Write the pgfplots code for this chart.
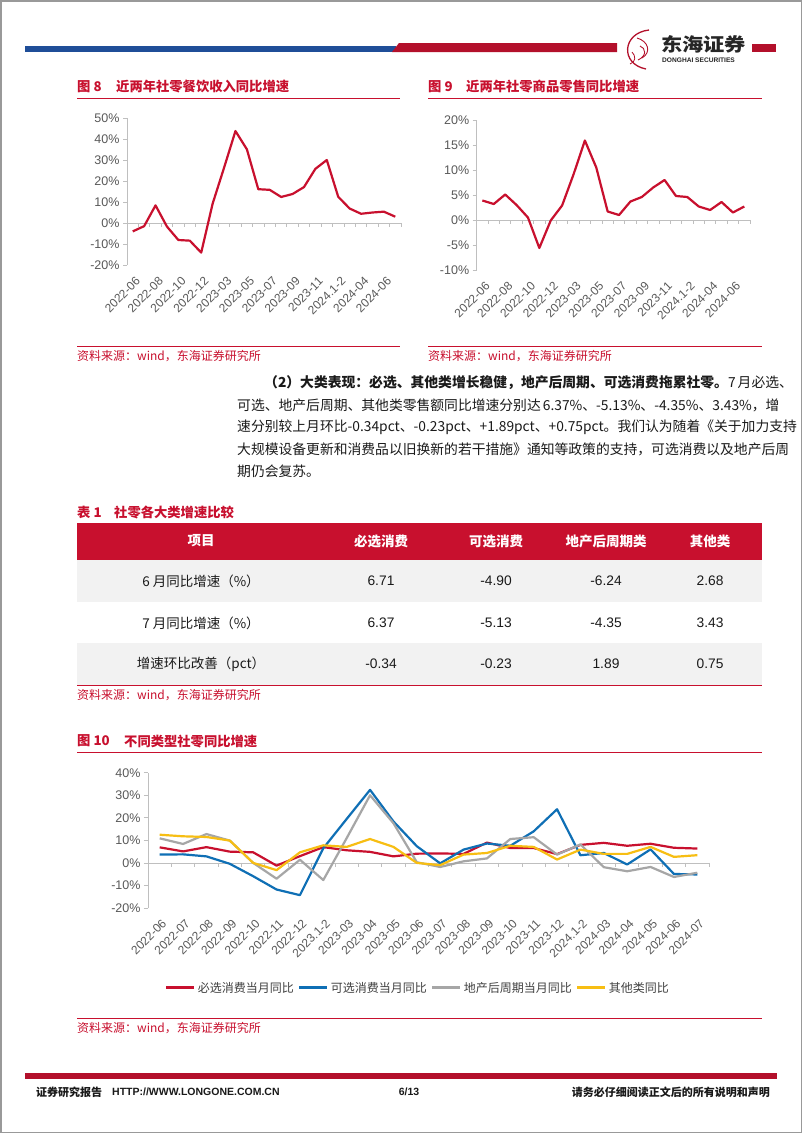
\documentclass[border=0pt]{standalone}
\usepackage{fontspec}
\setmainfont{Noto Sans CJK SC}
\newfontfamily\arial{Liberation Sans}
\usepackage{pgfplots}
\pgfplotsset{compat=1.18}
\XeTeXlinebreaklocale "zh"
\XeTeXlinebreakskip=0pt plus 1pt

\definecolor{tred}{HTML}{C8102E}
\definecolor{hdblue}{HTML}{1F4E98}
\definecolor{hdred}{HTML}{B3102B}
\definecolor{lblue}{HTML}{0F6FB5}
\definecolor{lgray}{HTML}{A6A6A6}
\definecolor{lyel}{HTML}{F7BE13}
\definecolor{tickgray}{HTML}{595959}
\definecolor{axgray}{HTML}{BFBFBF}
\definecolor{rowgray}{HTML}{F2F2F2}
\definecolor{txt}{HTML}{1A1A1A}
\newcommand\fs[1]{\fontsize{#1}{#1}\selectfont}

\pgfplotsset{
  rpt/.style={
    scale only axis,
    axis lines=left,
    axis line style={-, draw=axgray, line width=0.8pt},
    x axis line style={draw=none},
    xmin=-0.5, xmax=23.5,
    major x tick style={draw=none},
    ytick style={draw=axgray, line width=0.8pt},
    tick align=outside,
    major tick length=4pt,
    yticklabel style={font=\arial\fs{12.5}, text=tickgray},
    xticklabel style={font=\arial\fs{12}, text=tickgray, rotate=45, anchor=east, yshift=-11pt},
    clip=false,
  },
}

\begin{document}
\begin{tikzpicture}
\begin{scope}[x=1pt,y=-1pt]
  \path[use as bounding box] (0,0) rectangle (802,1133);
  \fill[white] (0,0) rectangle (802,1133);
  \draw[gray!80, line width=1.5pt] (0.75,0.75) rectangle (801.25,1132.25);

  % header
  \fill[hdblue] (25,46) rectangle (396,52);
  \fill[hdred] (392,52) -- (399,43) -- (617,43) -- (617,52) -- cycle;
  \fill[hdred] (752,44) rectangle (776,52);
  \draw[hdred, line width=1.3pt] (649,30) .. controls (622,33) and (620,64) .. (646,69);
  \draw[hdred, line width=0.9pt] (637,38) .. controls (648,41) and (652,52) .. (642,58);
  \draw[hdred, line width=0.9pt] (640,46) .. controls (646,48) and (647,56) .. (638,60);
  \draw[hdred, line width=0.8pt] (632,52) .. controls (636,56) and (636,62) .. (630,64);
  \node[anchor=west, inner sep=0pt, text=black!85] at (661,44) {\resizebox{85pt}{16pt}{\bfseries 东海证券}};
  \node[anchor=west, inner sep=0pt, font=\arial\bfseries\fs{6.6}, text=black!85] at (662,60) {DONGHAI SECURITIES};

  % chart titles
  \node[anchor=west, inner sep=0pt, text=tred, font=\bfseries\fs{13.3}] at (77,87) {图 8};
  \node[anchor=west, inner sep=0pt, text=tred, font=\bfseries\fs{13.3}] at (116,87) {近两年社零餐饮收入同比增速};
  \draw[tred, line width=1pt] (77,98) -- (400,98);
  \node[anchor=west, inner sep=0pt, text=tred, font=\bfseries\fs{13.3}] at (428,87) {图 9};
  \node[anchor=west, inner sep=0pt, text=tred, font=\bfseries\fs{13.3}] at (466,87) {近两年社零商品零售同比增速};
  \draw[tred, line width=1pt] (428,98) -- (762,98);
  \draw[tred, line width=1pt] (77,346) -- (400,346);
  \draw[tred, line width=1pt] (428,346) -- (762,346);
  \node[anchor=west, inner sep=0pt, text=tred, font=\fs{12}] at (77,356) {资料来源：wind，东海证券研究所};
  \node[anchor=west, inner sep=0pt, text=tred, font=\fs{12}] at (428,356) {资料来源：wind，东海证券研究所};

  % paragraph
  \begin{scope}[every node/.style={anchor=west, inner sep=0pt, text=txt, font=\fs{13.8}}]
    \node at (264,383) {\makebox[498pt][s]{\textbf{（2）大类表现：必选、其他类增长稳健，地产后周期、可选消费拖累社零。}7 月必选、}};
    \node at (237,405) {\makebox[525pt][s]{可选、地产后周期、其他类零售额同比增速分别达 6.37\%、-5.13\%、-4.35\%、3.43\%，增}};
    \node at (237,427) {\makebox[525pt][s]{速分别较上月环比-0.34pct、-0.23pct、+1.89pct、+0.75pct。我们认为随着《关于加力支持}};
    \node at (237,449) {\makebox[525pt][s]{大规模设备更新和消费品以旧换新的若干措施》通知等政策的支持，可选消费以及地产后周}};
    \node at (237,471) {期仍会复苏。};
  \end{scope}

  % table
  \node[anchor=west, inner sep=0pt, text=tred, font=\bfseries\fs{13.3}] at (77,512) {表 1};
  \node[anchor=west, inner sep=0pt, text=tred, font=\bfseries\fs{13.3}] at (114,512) {社零各大类增速比较};
  \fill[tred] (77,523) rectangle (762,560);
  \fill[rowgray] (77,560) rectangle (762,602);
  \fill[rowgray] (77,643) rectangle (762,685);
  \draw[tred, line width=1pt] (77,685) -- (762,685);
  \begin{scope}[every node/.style={inner sep=0pt, text=white, font=\bfseries\fs{13.5}}]
    \node at (201,541) {项目};
    \node at (381,541) {必选消费};
    \node at (496,541) {可选消费};
    \node at (606,541) {地产后周期类};
    \node at (710,541) {其他类};
  \end{scope}
  \begin{scope}[every node/.style={inner sep=0pt, text=txt, font=\fs{13.5}}]
    \node at (201,581) {6 月同比增速（\%）};
    \node at (201,623) {7 月同比增速（\%）};
    \node at (201,664) {增速环比改善（pct）};
  \end{scope}
  \begin{scope}[every node/.style={inner sep=0pt, text=txt, font=\arial\fs{13.8}}]
    \node at (381,581) {6.71};  \node at (496,581) {-4.90}; \node at (606,581) {-6.24}; \node at (710,581) {2.68};
    \node at (381,623) {6.37};  \node at (496,623) {-5.13}; \node at (606,623) {-4.35}; \node at (710,623) {3.43};
    \node at (381,664) {-0.34}; \node at (496,664) {-0.23}; \node at (606,664) {1.89};  \node at (710,664) {0.75};
  \end{scope}
  \node[anchor=west, inner sep=0pt, text=tred, font=\fs{12}] at (77,695) {资料来源：wind，东海证券研究所};

  % chart 10 frame
  \node[anchor=west, inner sep=0pt, text=tred, font=\bfseries\fs{13.3}] at (77,741) {图 10};
  \node[anchor=west, inner sep=0pt, text=tred, font=\bfseries\fs{13.3}] at (124,741) {不同类型社零同比增速};
  \draw[tred, line width=1pt] (77,752) -- (762,752);
  \draw[tred, line width=1pt] (77,1018) -- (762,1018);
  \node[anchor=west, inner sep=0pt, text=tred, font=\fs{12}] at (77,1028) {资料来源：wind，东海证券研究所};

  % footer
  \fill[hdred] (25,1073) rectangle (777,1079);
  \node[anchor=west, inner sep=0pt, font=\bfseries\fs{11}, text=black!90] at (36,1092) {证券研究报告};
  \node[anchor=west, inner sep=0pt, font=\arial\bfseries\fs{10.5}, text=black!90] at (112,1092) {HTTP://WWW.LONGONE.COM.CN};
  \node[inner sep=0pt, font=\arial\bfseries\fs{10.5}, text=black!90] at (409,1092) {6/13};
  \node[anchor=east, inner sep=0pt, font=\bfseries\fs{11}, text=black!90] at (770,1092) {请务必仔细阅读正文后的所有说明和声明};
\end{scope}

% ---- chart 8
\begin{axis}[rpt, at={(127pt,-265pt)}, anchor=south west,
  width=274pt, height=147pt,
  ymin=-20, ymax=50, ytick={-20,-10,...,50},
  yticklabels={-20\%,-10\%,0\%,10\%,20\%,30\%,40\%,50\%},
  xtick={0,2,...,22},
  xticklabels={2022-06,2022-08,2022-10,2022-12,2023-03,2023-05,2023-07,2023-09,2023-11,2024.1-2,2024-04,2024-06},
]
\draw[axgray, line width=0.8pt] (axis cs:-0.5,0) -- (axis cs:23.5,0);
\pgfplotsinvokeforeach{0,...,23}{\draw[axgray, line width=0.8pt] (axis cs:#1.5,0) -- ++(0pt,-4pt);}
\addplot[tred, line width=2.2pt, line join=round] coordinates {
(0,-4.0)(1,-1.5)(2,8.4)(3,-1.7)(4,-8.1)(5,-8.4)(6,-14.1)(7,9.2)(8,26.3)(9,43.8)(10,35.1)(11,16.1)
(12,15.8)(13,12.4)(14,13.8)(15,17.1)(16,25.8)(17,30.0)(18,12.5)(19,6.9)(20,4.4)(21,5.0)(22,5.4)(23,3.0)};
\end{axis}

% ---- chart 9
\begin{axis}[rpt, at={(476.7pt,-270pt)}, anchor=south west,
  width=273.3pt, height=150pt,
  ymin=-10, ymax=20, ytick={-10,-5,...,20},
  yticklabels={-10\%,-5\%,0\%,5\%,10\%,15\%,20\%},
  xtick={0,2,...,22},
  xticklabels={2022-06,2022-08,2022-10,2022-12,2023-03,2023-05,2023-07,2023-09,2023-11,2024.1-2,2024-04,2024-06},
]
\draw[axgray, line width=0.8pt] (axis cs:-0.5,0) -- (axis cs:23.5,0);
\pgfplotsinvokeforeach{0,...,23}{\draw[axgray, line width=0.8pt] (axis cs:#1.5,0) -- ++(0pt,-4pt);}
\addplot[tred, line width=2.2pt, line join=round] coordinates {
(0,3.9)(1,3.2)(2,5.1)(3,3.0)(4,0.5)(5,-5.6)(6,-0.1)(7,2.9)(8,9.1)(9,15.9)(10,10.5)(11,1.7)
(12,1.0)(13,3.7)(14,4.6)(15,6.5)(16,8.0)(17,4.8)(18,4.6)(19,2.7)(20,2.0)(21,3.6)(22,1.5)(23,2.7)};
\end{axis}

% ---- chart 10
\begin{axis}[rpt, at={(148pt,-908pt)}, anchor=south west,
  width=561pt, height=135.3pt,
  ymin=-20, ymax=40, ytick={-20,-10,...,40},
  yticklabels={-20\%,-10\%,0\%,10\%,20\%,30\%,40\%},
  xtick={0,...,23},
  xticklabels={2022-06,2022-07,2022-08,2022-09,2022-10,2022-11,2022-12,2023.1-2,2023-03,2023-04,2023-05,2023-06,2023-07,2023-08,2023-09,2023-10,2023-11,2023-12,2024.1-2,2024-03,2024-04,2024-05,2024-06,2024-07},
  xticklabel style={yshift=1pt},
  legend columns=4,
  legend style={at={(0.481,-0.591)}, anchor=center, draw=none, fill=none,
    font=\fs{12}, text=black!75, inner sep=0pt,
    /tikz/every even column/.append style={column sep=2pt}},
  legend image code/.code={\draw[#1, line width=3pt] (0pt,0pt) -- (28pt,0pt);},
]
\draw[axgray, line width=0.8pt] (axis cs:-0.5,0) -- (axis cs:23.5,0);
\pgfplotsinvokeforeach{0,...,23}{\draw[axgray, line width=0.8pt] (axis cs:#1.5,0) -- ++(0pt,-4pt);}
\addplot[tred, line width=2.2pt, line join=round] coordinates {
(0,6.9)(1,5.1)(2,7.0)(3,5.0)(4,4.7)(5,-1.2)(6,3.0)(7,7.0)(8,5.6)(9,4.9)(10,2.9)(11,4.1)
(12,4.2)(13,4.0)(14,9.0)(15,6.6)(16,6.6)(17,3.9)(18,8.0)(19,8.9)(20,7.6)(21,8.5)(22,6.71)(23,6.37)};
\addlegendentry{必选消费当月同比}
\addplot[lblue, line width=2.2pt, line join=round] coordinates {
(0,3.7)(1,3.8)(2,2.9)(3,-0.4)(4,-5.9)(5,-11.8)(6,-14.3)(7,6.5)(8,19.5)(9,32.4)(10,18.4)(11,7.4)
(12,-0.2)(13,5.9)(14,8.6)(15,7.6)(16,14.0)(17,23.8)(18,3.4)(19,4.4)(20,-0.7)(21,6.0)(22,-4.90)(23,-5.13)};
\addlegendentry{可选消费当月同比}
\addplot[lgray, line width=2.2pt, line join=round] coordinates {
(0,10.9)(1,8.4)(2,12.8)(3,9.9)(4,0.0)(5,-7.0)(6,1.4)(7,-7.6)(8,11.0)(9,30.0)(10,17.6)(11,0.3)
(12,-1.8)(13,0.7)(14,2.0)(15,10.6)(16,11.4)(17,3.7)(18,8.2)(19,-1.9)(20,-3.7)(21,-1.8)(22,-6.24)(23,-4.35)};
\addlegendentry{地产后周期当月同比}
\addplot[lyel, line width=2.2pt, line join=round] coordinates {
(0,12.5)(1,11.8)(2,11.5)(3,9.9)(4,0.0)(5,-3.2)(6,4.7)(7,7.8)(8,7.1)(9,10.6)(10,7.1)(11,0.0)
(12,-1.0)(13,3.7)(14,4.4)(15,7.6)(16,7.1)(17,1.5)(18,5.9)(19,4.0)(20,4.0)(21,7.1)(22,2.68)(23,3.43)};
\addlegendentry{其他类同比}
\end{axis}
\end{tikzpicture}
\end{document}
